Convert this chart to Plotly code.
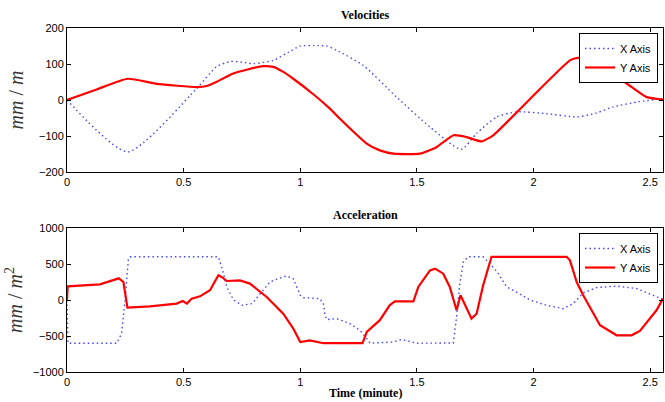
import plotly.graph_objects as go
from plotly.subplots import make_subplots

# ---- Velocities ----
vx_t = [0, 0.26, 0.556, 0.64, 0.70, 0.75, 0.80, 0.884, 0.95, 1.0, 1.06, 1.113, 1.156, 1.27, 1.413, 1.556,
        1.69, 1.756, 1.842, 1.927, 2.056, 2.185, 2.27, 2.342, 2.45, 2.555]
vx_v = [0, -144, 32, 92, 107, 105, 101, 110, 133, 150, 151, 150, 138, 96, 8, -75,
        -137, -93, -47, -33, -38, -47, -36, -19, -5, 4]

vy_t = [0, 0.13, 0.26, 0.384, 0.556, 0.60, 0.64, 0.71, 0.77, 0.84, 0.884, 0.927, 0.97, 1.056, 1.127,
        1.17, 1.285, 1.341, 1.40, 1.513, 1.584, 1.657, 1.713, 1.777, 1.827, 1.985, 2.156, 2.19, 2.227,
        2.27, 2.342, 2.41, 2.485, 2.555]
vy_v = [0, 30, 59, 45, 36, 39, 50, 73, 84, 94, 92, 78, 59, 16, -24,
        -52, -121, -140, -149, -149, -131, -98, -103, -115, -98, 3, 110, 117, 115,
        101, 73, 41, 8, 1]

# ---- Acceleration ----
ax_t = [0, 0.004, 0.213, 0.234, 0.249, 0.263, 0.272, 0.649, 0.667, 0.685, 0.714, 0.75, 0.793, 0.84, 0.87,
        0.9, 0.941, 0.97, 1.0, 1.013, 1.084, 1.099, 1.106, 1.113, 1.156, 1.213, 1.256, 1.285, 1.299,
        1.398, 1.434, 1.499, 1.656, 1.67, 1.684, 1.699, 1.72, 1.784, 1.842, 1.885, 1.913, 1.985,
        2.056, 2.127, 2.17, 2.213, 2.27, 2.356, 2.442, 2.555]
ax_v = [0, -600, -600, -467, 0, 560, 600, 600, 412, 181, 0, -74, -50, 135, 250,
        290, 334, 297, 65, 33, 19, -50, -213, -272, -259, -328, -421, -536, -600,
        -583, -550, -600, -597, -236, 228, 528, 600, 600, 400, 181, 135, 0,
        -74, -120, -50, 97, 172, 194, 158, 10]

ay_t = [0, 0.003, 0.141, 0.214, 0.222, 0.242, 0.259, 0.356, 0.47, 0.496, 0.514, 0.534, 0.57, 0.613,
        0.649, 0.667, 0.685, 0.741, 0.784, 0.856, 0.927, 0.97, 1.0, 1.041, 1.084, 1.099, 1.267,
        1.285, 1.341, 1.384, 1.406, 1.485, 1.506, 1.556, 1.578, 1.613, 1.641, 1.67, 1.687, 1.734,
        1.756, 1.784, 1.82, 2.142, 2.156, 2.185, 2.213, 2.285, 2.356, 2.42, 2.456, 2.527, 2.555]
ay_v = [0, 190, 218, 287, 301, 250, -106, -88, -50, -14, -50, 19, 51, 135,
        343, 311, 264, 273, 228, 42, -189, -397, -583, -560, -583, -600, -600,
        -444, -280, -70, -18, -18, 181, 412, 436, 366, 181, -143, 65, -259,
        -190, 204, 600, 600, 551, 250, 65, -351, -490, -490, -430, -143, 19]

x_ticks = [0, 0.5, 1, 1.5, 2, 2.5]
x_tick_labels = ["0", "0.5", "1", "1.5", "2", "2.5"]
v_ticks = [-200, -100, 0, 100, 200]
a_ticks = [-1000, -500, 0, 500, 1000]

BLUE = "rgb(70,70,255)"
RED = "#ff0000"
DOTS = "1.5px,3px"
SANS = "Liberation Sans, Arial, sans-serif"
SERIF = "Liberation Serif, Times New Roman, serif"

fig = make_subplots(rows=2, cols=1, vertical_spacing=0.1)

fig.add_trace(go.Scatter(x=vx_t, y=vx_v, mode="lines", name="X Axis",
                         line=dict(color=BLUE, width=1.4, dash=DOTS, shape="spline", smoothing=0.6),
                         legend="legend"), row=1, col=1)
fig.add_trace(go.Scatter(x=vy_t, y=vy_v, mode="lines", name="Y Axis",
                         line=dict(color=RED, width=2.2, shape="spline", smoothing=0.5),
                         legend="legend"), row=1, col=1)
fig.add_trace(go.Scatter(x=ax_t, y=ax_v, mode="lines", name="X Axis",
                         line=dict(color=BLUE, width=1.4, dash=DOTS), legend="legend2"), row=2, col=1)
fig.add_trace(go.Scatter(x=ay_t, y=ay_v, mode="lines", name="Y Axis",
                         line=dict(color=RED, width=2.2), legend="legend2"), row=2, col=1)

axis_common = dict(showline=True, linecolor="black", linewidth=1, mirror="ticks", ticks="inside",
                   ticklen=4, tickcolor="black", showgrid=False, zeroline=False,
                   tickfont=dict(family=SANS, size=11, color="black"))

for r in (1, 2):
    fig.update_xaxes(range=[0, 2.555], tickvals=x_ticks, ticktext=x_tick_labels, row=r, col=1, **axis_common)

fig.update_yaxes(range=[-200, 200], tickvals=v_ticks, row=1, col=1,
                 title=dict(text="<i>mm</i> / <i>m</i>", font=dict(family=SERIF, size=20, color="#333"), standoff=10),
                 **axis_common)
fig.update_yaxes(range=[-1000, 1000], tickvals=a_ticks, row=2, col=1,
                 title=dict(text="<i>mm</i> / <i>m</i><sup>2</sup>", font=dict(family=SERIF, size=20, color="#333"), standoff=4),
                 **axis_common)

legend_common = dict(xanchor="right", yanchor="top", bgcolor="white",
                     bordercolor="black", borderwidth=1, font=dict(family=SANS, size=11, color="black"),
                     tracegroupgap=0, itemwidth=30)

fig.update_layout(
    width=665, height=402,
    margin=dict(l=67, r=2, t=28, b=30),
    plot_bgcolor="white", paper_bgcolor="white",
    yaxis=dict(domain=[0.5814, 1.0]),
    yaxis2=dict(domain=[0.0, 0.4186]),
    legend=dict(x=0.9916, y=0.9855, **legend_common),
    legend2=dict(x=0.9916, y=0.404, **legend_common),
    annotations=[
        dict(text="<b>Velocities</b>", xref="paper", yref="paper", x=0.5, y=1.0, yshift=13,
             xanchor="center", yanchor="middle", showarrow=False, font=dict(family=SERIF, size=12, color="black")),
        dict(text="<b>Acceleration</b>", xref="paper", yref="paper", x=0.5, y=0.4186, yshift=13,
             xanchor="center", yanchor="middle", showarrow=False, font=dict(family=SERIF, size=12, color="black")),
        dict(text="<b>Time (minute)</b>", xref="paper", yref="paper", x=0.5, y=0.0, yshift=-21,
             xanchor="center", yanchor="middle", showarrow=False, font=dict(family=SERIF, size=12, color="black")),
    ],
)

fig.write_html("out.html", config={"displayModeBar": False},
               post_script="document.body.style.margin='0';document.body.style.padding='0';")
